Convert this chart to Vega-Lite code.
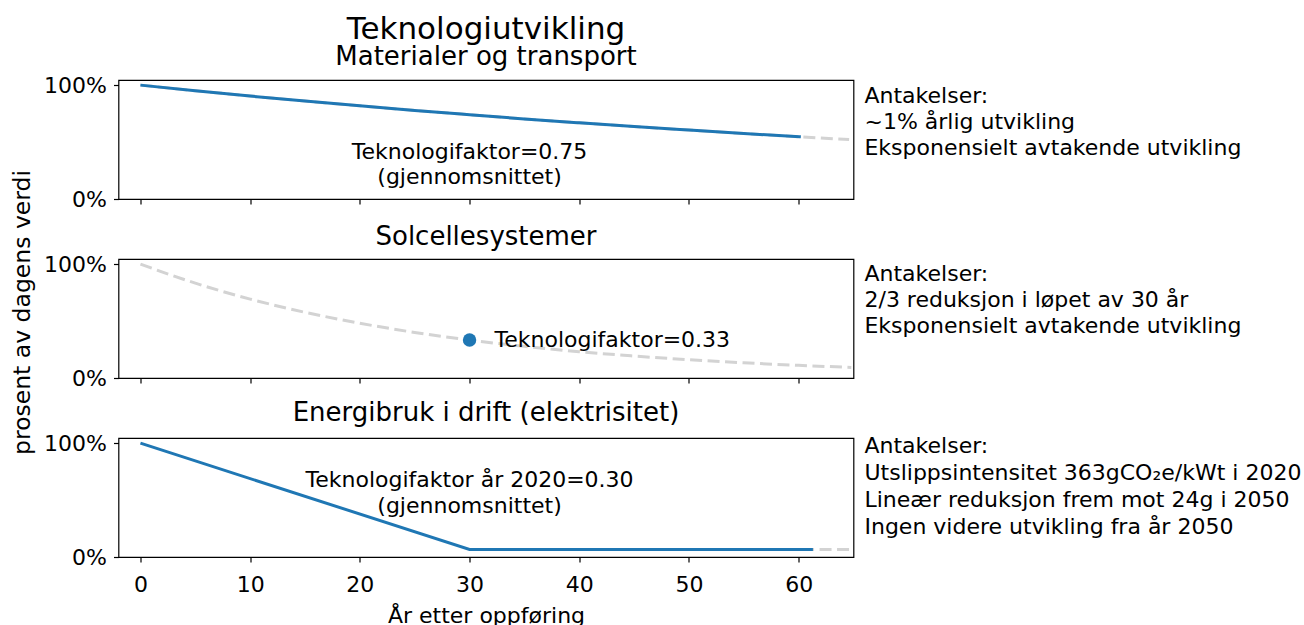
{
  "$schema": "https://vega.github.io/schema/vega-lite/v6.json",
  "padding": {"left": 10, "top": 13, "right": 5, "bottom": 5},
  "spacing": 4.5,
  "datasets": {
    "curves": [
      {"panel": "A", "series": "gray", "t": 0, "v": 1.0},
      {"panel": "A", "series": "gray", "t": 5, "v": 0.951},
      {"panel": "A", "series": "gray", "t": 10, "v": 0.904},
      {"panel": "A", "series": "gray", "t": 15, "v": 0.860},
      {"panel": "A", "series": "gray", "t": 20, "v": 0.818},
      {"panel": "A", "series": "gray", "t": 25, "v": 0.778},
      {"panel": "A", "series": "gray", "t": 30, "v": 0.740},
      {"panel": "A", "series": "gray", "t": 35, "v": 0.703},
      {"panel": "A", "series": "gray", "t": 40, "v": 0.669},
      {"panel": "A", "series": "gray", "t": 45, "v": 0.636},
      {"panel": "A", "series": "gray", "t": 50, "v": 0.605},
      {"panel": "A", "series": "gray", "t": 55, "v": 0.575},
      {"panel": "A", "series": "gray", "t": 60, "v": 0.547},
      {"panel": "A", "series": "gray", "t": 64.6, "v": 0.522},
      {"panel": "A", "series": "blue", "t": 0, "v": 1.0},
      {"panel": "A", "series": "blue", "t": 5, "v": 0.951},
      {"panel": "A", "series": "blue", "t": 10, "v": 0.904},
      {"panel": "A", "series": "blue", "t": 15, "v": 0.860},
      {"panel": "A", "series": "blue", "t": 20, "v": 0.818},
      {"panel": "A", "series": "blue", "t": 25, "v": 0.778},
      {"panel": "A", "series": "blue", "t": 30, "v": 0.740},
      {"panel": "A", "series": "blue", "t": 35, "v": 0.703},
      {"panel": "A", "series": "blue", "t": 40, "v": 0.669},
      {"panel": "A", "series": "blue", "t": 45, "v": 0.636},
      {"panel": "A", "series": "blue", "t": 50, "v": 0.605},
      {"panel": "A", "series": "blue", "t": 55, "v": 0.575},
      {"panel": "A", "series": "blue", "t": 60.2, "v": 0.546},
      {"panel": "B", "series": "gray", "t": 0, "v": 1.0},
      {"panel": "B", "series": "gray", "t": 5, "v": 0.833},
      {"panel": "B", "series": "gray", "t": 10, "v": 0.693},
      {"panel": "B", "series": "gray", "t": 15, "v": 0.577},
      {"panel": "B", "series": "gray", "t": 20, "v": 0.481},
      {"panel": "B", "series": "gray", "t": 25, "v": 0.400},
      {"panel": "B", "series": "gray", "t": 30, "v": 0.333},
      {"panel": "B", "series": "gray", "t": 35, "v": 0.278},
      {"panel": "B", "series": "gray", "t": 40, "v": 0.231},
      {"panel": "B", "series": "gray", "t": 45, "v": 0.193},
      {"panel": "B", "series": "gray", "t": 50, "v": 0.160},
      {"panel": "B", "series": "gray", "t": 55, "v": 0.134},
      {"panel": "B", "series": "gray", "t": 60, "v": 0.111},
      {"panel": "B", "series": "gray", "t": 64.8, "v": 0.093},
      {"panel": "C", "series": "gray", "t": 30, "v": 0.066},
      {"panel": "C", "series": "gray", "t": 64.6, "v": 0.066},
      {"panel": "C", "series": "blue", "t": 0, "v": 1.0},
      {"panel": "C", "series": "blue", "t": 30, "v": 0.066},
      {"panel": "C", "series": "blue", "t": 61.3, "v": 0.066}
    ],
    "points": [
      {"panel": "B", "t": 30, "v": 0.333, "label": "Teknologifaktor=0.33"}
    ],
    "notes": [
      {"panel": "A", "kind": "inner", "t": 30, "v": 0.353, "label": "Teknologifaktor=0.75\n(gjennomsnittet)"},
      {"panel": "A", "kind": "right", "t": 66, "v": 0.84, "label": "Antakelser:\n~1% årlig utvikling\nEksponensielt avtakende utvikling"},
      {"panel": "B", "kind": "right", "t": 66, "v": 0.85, "label": "Antakelser:\n2/3 reduksjon i løpet av 30 år\nEksponensielt avtakende utvikling"},
      {"panel": "C", "kind": "inner", "t": 30, "v": 0.619, "label": "Teknologifaktor år 2020=0.30\n(gjennomsnittet)"},
      {"panel": "C", "kind": "right", "t": 66, "v": 0.916, "label": "Antakelser:\nUtslippsintensitet 363gCO₂e/kWt i 2020\nLineær reduksjon frem mot 24g i 2050\nIngen videre utvikling fra år 2050"}
    ]
  },
  "hconcat": [
    {
      "width": 1,
      "height": 480,
      "view": {"stroke": null},
      "data": {"name": "points"},
      "mark": {"type": "point", "opacity": 0},
      "encoding": {
        "y": {"field": "v", "type": "quantitative", "scale": {"domain": [0, 1]}, "axis": {"labels": false, "ticks": false, "domain": false, "title": "prosent av dagens verdi", "titleFontSize": 23.5, "titlePadding": 0, "titleY": 232}}
      }
    },
    {
      "spacing": 60,
      "bounds": "flush",
      "vconcat": [
        {
          "width": 735,
          "height": 119,
          "title": {"text": "Teknologiutvikling", "subtitle": "Materialer og transport", "fontSize": 31, "subtitleFontSize": 26, "subtitlePadding": -2, "offset": 3},
          "encoding": {
            "x": {"field": "t", "type": "quantitative", "scale": {"domain": [-2, 65], "nice": false, "zero": false}, "axis": {"values": [0, 10, 20, 30, 40, 50, 60], "labels": false, "title": null}},
            "y": {"field": "v", "type": "quantitative", "scale": {"domain": [0, 1.045], "nice": false}, "axis": {"values": [0, 1], "format": ".0%", "title": null}}
          },
          "layer": [
            {"data": {"name": "curves"}, "transform": [{"filter": "datum.panel === 'A' && datum.series === 'gray'"}], "mark": {"type": "line", "color": "#d3d3d3", "strokeWidth": 3, "strokeDash": [12, 5.5], "interpolate": "monotone"}},
            {"data": {"name": "curves"}, "transform": [{"filter": "datum.panel === 'A' && datum.series === 'blue'"}], "mark": {"type": "line", "color": "#1f77b4", "strokeWidth": 3, "interpolate": "monotone"}},
            {"data": {"name": "notes"}, "transform": [{"filter": "datum.panel === 'A' && datum.kind === 'inner'"}], "mark": {"type": "text", "align": "center", "baseline": "alphabetic", "lineBreak": "\n", "lineHeight": 25.5}, "encoding": {"text": {"field": "label"}}},
            {"data": {"name": "notes"}, "transform": [{"filter": "datum.panel === 'A' && datum.kind === 'right'"}], "mark": {"type": "text", "align": "left", "baseline": "alphabetic", "lineBreak": "\n", "lineHeight": 26}, "encoding": {"text": {"field": "label"}}}
          ]
        },
        {
          "width": 735,
          "height": 119,
          "title": {"text": "Solcellesystemer", "offset": 3.5},
          "encoding": {
            "x": {"field": "t", "type": "quantitative", "scale": {"domain": [-2, 65], "nice": false, "zero": false}, "axis": {"values": [0, 10, 20, 30, 40, 50, 60], "labels": false, "title": null}},
            "y": {"field": "v", "type": "quantitative", "scale": {"domain": [0, 1.045], "nice": false}, "axis": {"values": [0, 1], "format": ".0%", "title": null}}
          },
          "layer": [
            {"data": {"name": "curves"}, "transform": [{"filter": "datum.panel === 'B' && datum.series === 'gray'"}], "mark": {"type": "line", "color": "#d3d3d3", "strokeWidth": 3, "strokeDash": [12, 5.5], "interpolate": "monotone"}},
            {"data": {"name": "points"}, "mark": {"type": "circle", "size": 180, "color": "#1f77b4", "opacity": 1}},
            {"data": {"name": "points"}, "mark": {"type": "text", "align": "left", "baseline": "middle", "dx": 25}, "encoding": {"text": {"field": "label"}}},
            {"data": {"name": "notes"}, "transform": [{"filter": "datum.panel === 'B' && datum.kind === 'right'"}], "mark": {"type": "text", "align": "left", "baseline": "alphabetic", "lineBreak": "\n", "lineHeight": 26}, "encoding": {"text": {"field": "label"}}}
          ]
        },
        {
          "width": 735,
          "height": 119,
          "title": {"text": "Energibruk i drift (elektrisitet)", "offset": 6},
          "encoding": {
            "x": {"field": "t", "type": "quantitative", "scale": {"domain": [-2, 65], "nice": false, "zero": false}, "axis": {"values": [0, 10, 20, 30, 40, 50, 60], "labelPadding": 12, "title": "År etter oppføring", "titlePadding": 10}},
            "y": {"field": "v", "type": "quantitative", "scale": {"domain": [0, 1.045], "nice": false}, "axis": {"values": [0, 1], "format": ".0%", "title": null}}
          },
          "layer": [
            {"data": {"name": "curves"}, "transform": [{"filter": "datum.panel === 'C' && datum.series === 'gray'"}], "mark": {"type": "line", "color": "#d3d3d3", "strokeWidth": 3, "strokeDash": [12, 5.5]}},
            {"data": {"name": "curves"}, "transform": [{"filter": "datum.panel === 'C' && datum.series === 'blue'"}], "mark": {"type": "line", "color": "#1f77b4", "strokeWidth": 3}},
            {"data": {"name": "notes"}, "transform": [{"filter": "datum.panel === 'C' && datum.kind === 'inner'"}], "mark": {"type": "text", "align": "center", "baseline": "alphabetic", "lineBreak": "\n", "lineHeight": 26}, "encoding": {"text": {"field": "label"}}},
            {"data": {"name": "notes"}, "transform": [{"filter": "datum.panel === 'C' && datum.kind === 'right'"}], "mark": {"type": "text", "align": "left", "baseline": "alphabetic", "lineBreak": "\n", "lineHeight": 27}, "encoding": {"text": {"field": "label"}}}
          ]
        }
      ]
    }
  ],
  "config": {
    "font": "DejaVu Sans",
    "view": {"stroke": "black", "strokeWidth": 1.2},
    "axis": {"grid": false, "domain": false, "tickColor": "black", "tickSize": 5, "tickWidth": 1.2, "labelPadding": 7, "labelFontSize": 22, "labelColor": "black", "labelFont": "DejaVu Sans", "titleFontSize": 22, "titleFontWeight": "normal", "titleColor": "black", "titleFont": "DejaVu Sans"},
    "title": {"fontSize": 26, "fontWeight": "normal", "color": "black", "font": "DejaVu Sans", "subtitleFont": "DejaVu Sans", "subtitleFontSize": 26, "subtitleColor": "black"},
    "text": {"font": "DejaVu Sans", "fontSize": 22, "color": "black"}
  }
}
